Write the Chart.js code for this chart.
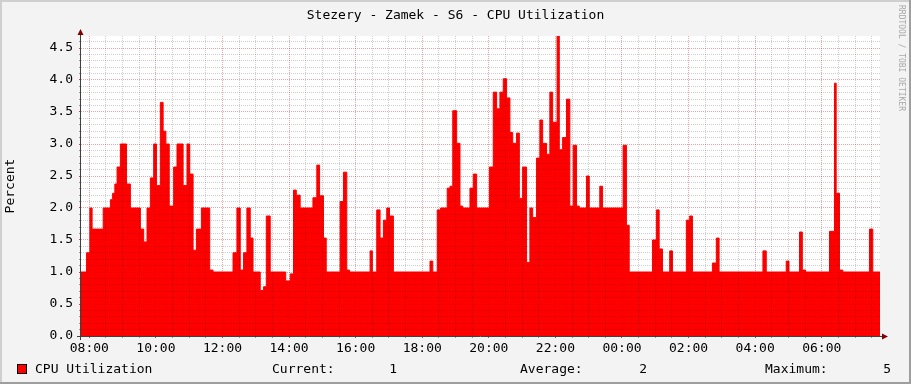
<!DOCTYPE html>
<html><head><meta charset="utf-8">
<script src="https://cdn.jsdelivr.net/npm/chart.js@4.4.1/dist/chart.umd.min.js"></script>
<style>html,body{margin:0;padding:0;background:#f3f3f3;overflow:hidden}canvas{display:block}</style>
</head><body>
<canvas id="c" width="911" height="384"></canvas>
<script>
const chartTitle = 'Stezery - Zamek - S6 - CPU Utilization';
const yAxisTitle = 'Percent';
const seriesName = 'CPU Utilization';
const legendLabels = ['Current:', 'Average:', 'Maximum:'];
const legendValues = ['1', '2', '5'];
const watermark = 'RRDTOOL / TOBI OETIKER';

// x axis: minutes since 00:00 of the first day (07:45 -> 07:45 next day)
const xStart = 465, xEnd = 1905;
const xLabelTicks = ['08:00','10:00','12:00','14:00','16:00','18:00','20:00','22:00','00:00','02:00','04:00','06:00'];
const yLabelTicks = ['0.0','0.5','1.0','1.5','2.0','2.5','3.0','3.5','4.0','4.5'];
const yMax = 4.6875;

// start time of each step (minutes since 00:00 day 1) and the value held from it
const stepTimes = [
  465,475,481,485,505,518,522,526,530,536,
  547,554,572,578,584,590,596,601,608,613,
  618,624,632,638,649,656,661,667,673,682,
  697,703,739,746,752,758,764,770,775,788,
  794,799,806,834,842,848,853,860,883,890,
  895,902,907,932,938,944,949,986,990,998,
  1004,1010,1016,1021,1028,1094,1099,1107,1113,1125,
  1130,1135,1142,1148,1153,1166,1172,1178,1201,1208,
  1214,1220,1226,1232,1238,1243,1250,1255,1261,1268,
  1274,1279,1286,1292,1297,1304,1310,1315,1323,1327,
  1333,1340,1346,1352,1358,1363,1376,1381,1400,1405,
  1442,1448,1453,1495,1502,1507,1513,1526,1531,1556,
  1562,1567,1603,1610,1615,1694,1700,1736,1741,1760,
  1765,1771,1814,1823,1826,1832,1838,1886,1892,1905
];
const stepValues = [
  1.0,1.30,2.0,1.67,2.0,2.13,2.23,2.375,2.64,3.0,
  2.375,2.0,1.67,1.47,2.0,2.47,3.0,2.35,3.65,3.2,
  3.0,2.03,2.64,3.0,2.35,3.0,2.53,1.34,1.67,2.0,
  1.03,1.0,1.30,2.0,1.03,1.30,2.0,1.53,1.0,0.71,
  0.77,1.875,1.0,0.86,0.97,2.28,2.2,2.0,2.16,2.67,
  2.19,1.53,1.0,2.1,2.56,1.03,1.0,1.33,1.0,1.97,
  1.53,1.81,2.0,1.875,1.0,1.17,1.0,1.97,2.0,2.31,
  2.34,3.52,3.01,2.03,2.0,2.31,2.53,2.0,2.64,3.81,
  3.55,3.81,4.02,3.72,3.18,3.01,3.17,2.15,2.64,1.15,
  2.0,1.85,2.78,3.375,3.01,2.84,3.81,3.34,4.69,2.91,
  3.10,3.70,2.03,2.98,2.03,2.0,2.5,2.0,2.34,2.0,
  2.98,1.73,1.0,1.5,1.97,1.36,1.0,1.33,1.0,1.81,
  1.875,1.0,1.14,1.53,1.0,1.33,1.0,1.17,1.0,1.625,
  1.03,1.0,1.635,3.95,2.23,1.03,1.0,1.67,1.0,1.0
];

const MONO = "'DejaVu Sans Mono', monospace";
const minorGrid = 'rgba(0,0,0,0.19)';
const majorGrid = 'rgba(200,0,0,0.36)';

function fmtTime(v) {
  const m = ((Math.round(v) % 1440) + 1440) % 1440;
  const h = Math.floor(m / 60), mm = m % 60;
  return String(h).padStart(2, '0') + ':' + String(mm).padStart(2, '0');
}
const isMajorX = v => xLabelTicks.includes(fmtTime(v)) && Math.round(v) % 120 === 0;
const isMajorY = v => yLabelTicks.includes(v.toFixed(1)) && Math.abs(v * 2 - Math.round(v * 2)) < 1e-6;

const points = stepTimes.map((t, i) => ({x: t, y: stepValues[i]}));

const framePlugin = {
  id: 'rrdframe',
  beforeDraw(chart) {
    const {ctx, chartArea: a, width: W, height: H} = chart;
    ctx.save();
    ctx.fillStyle = '#f3f3f3'; ctx.fillRect(0, 0, W, H);
    ctx.fillStyle = '#cfcfcf'; ctx.fillRect(0, 0, W, 2); ctx.fillRect(0, 0, 2, H);
    ctx.fillStyle = '#9e9e9e'; ctx.fillRect(0, H - 2, W, 2); ctx.fillRect(W - 2, 0, 2, H);
    ctx.fillStyle = '#ffffff'; ctx.fillRect(a.left, a.top, a.right - a.left, a.bottom - a.top);
    ctx.restore();
  },
  afterDraw(chart) {
    const {ctx, chartArea: a, width: W} = chart;
    ctx.save();
    // axes
    ctx.strokeStyle = '#404040'; ctx.lineWidth = 1;
    ctx.beginPath();
    ctx.moveTo(a.left - 0.5, a.bottom + 4); ctx.lineTo(a.left - 0.5, a.top - 4);
    ctx.moveTo(a.left - 4, a.bottom + 0.5); ctx.lineTo(a.right + 4, a.bottom + 0.5);
    ctx.stroke();
    // arrows
    ctx.fillStyle = '#7f0000';
    ctx.beginPath();
    ctx.moveTo(a.left - 0.5, a.top - 7); ctx.lineTo(a.left - 3.5, a.top - 1); ctx.lineTo(a.left + 2.5, a.top - 1); ctx.closePath();
    ctx.fill();
    ctx.beginPath();
    ctx.moveTo(a.right + 8, a.bottom + 0.5); ctx.lineTo(a.right + 2, a.bottom - 2.5); ctx.lineTo(a.right + 2, a.bottom + 3.5); ctx.closePath();
    ctx.fill();
    // title
    ctx.fillStyle = '#000';
    ctx.font = '13px ' + MONO;
    ctx.textAlign = 'center'; ctx.textBaseline = 'alphabetic';
    ctx.fillText(chartTitle, W / 2, 19);
    // y axis title
    ctx.save();
    ctx.translate(11, (a.top + a.bottom) / 2);
    ctx.rotate(-Math.PI / 2);
    ctx.textBaseline = 'middle';
    ctx.fillText(yAxisTitle, 0, 0);
    ctx.restore();
    // legend
    ctx.fillStyle = '#ff0000'; ctx.fillRect(17, 364, 10, 10);
    ctx.strokeStyle = '#000'; ctx.strokeRect(17.5, 364.5, 9, 9);
    ctx.fillStyle = '#000'; ctx.textAlign = 'left';
    ctx.fillText(seriesName, 35, 373);
    const lx = [272, 520, 765];
    const vx = [397, 647, 891];
    for (let i = 0; i < 3; i++) {
      ctx.textAlign = 'left';
      ctx.fillText(legendLabels[i], lx[i], 373);
      ctx.textAlign = 'right';
      ctx.fillText(legendValues[i], vx[i], 373);
    }
    // watermark
    ctx.save();
    ctx.fillStyle = '#a8a8a8';
    ctx.font = '8px ' + MONO;
    ctx.translate(899, 5);
    ctx.rotate(Math.PI / 2);
    ctx.textAlign = 'left'; ctx.textBaseline = 'alphabetic';
    ctx.fillText(watermark, 0, 0);
    ctx.restore();
    ctx.restore();
  }
};

new Chart(document.getElementById('c'), {
  type: 'line',
  data: {
    datasets: [{
      label: seriesName,
      data: points,
      stepped: 'before',
      fill: 'origin',
      backgroundColor: '#ff0000',
      borderColor: '#ff0000',
      borderWidth: 1,
      pointRadius: 0,
      tension: 0
    }]
  },
  options: {
    responsive: false,
    animation: false,
    events: [],
    layout: {padding: {left: 0, top: 36, right: 31, bottom: 0}},
    plugins: {legend: {display: false}, title: {display: false}, tooltip: {enabled: false}},
    scales: {
      x: {
        type: 'linear', min: xStart, max: xEnd,
        afterFit: s => { s.height = 48; },
        afterBuildTicks: s => {
          const t = [];
          for (let v = 480; v < xEnd; v += 30) t.push({value: v});
          s.ticks = t;
        },
        ticks: {
          autoSkip: false, maxRotation: 0, minRotation: 0, padding: 3,
          font: {family: MONO, size: 13}, color: '#000',
          callback: v => isMajorX(v) ? fmtTime(v) : ''
        },
        grid: {
          z: 1, lineWidth: 1, tickLength: 2, drawTicks: true,
          color: c => isMajorX(c.tick.value) ? majorGrid : minorGrid,
          tickColor: c => isMajorX(c.tick.value) ? 'rgba(160,40,40,0.8)' : 'rgba(90,90,90,0.6)'
        },
        border: {display: false, dash: [1, 1]}
      },
      y: {
        type: 'linear', min: 0, max: yMax,
        afterFit: s => { s.width = 81; },
        afterBuildTicks: s => {
          const t = [];
          for (let i = 0; i <= 46; i++) t.push({value: i / 10});
          s.ticks = t;
        },
        ticks: {
          autoSkip: false, padding: 6, font: {family: MONO, size: 13}, color: '#000',
          callback: v => isMajorY(v) ? v.toFixed(1) : ''
        },
        grid: {
          z: 1, lineWidth: 1, tickLength: 2, drawTicks: true,
          color: c => isMajorY(c.tick.value) ? majorGrid : minorGrid,
          tickColor: c => isMajorY(c.tick.value) ? 'rgba(160,40,40,0.8)' : 'rgba(90,90,90,0.6)'
        },
        border: {display: false, dash: [1, 1]}
      }
    }
  },
  plugins: [framePlugin]
});
</script>
</body></html>
